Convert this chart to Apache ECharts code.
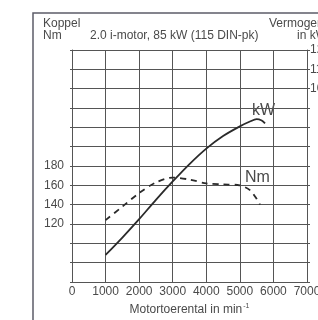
<!DOCTYPE html>
<html>
<head>
<meta charset="utf-8">
<title>Koppel / vermogen</title>
<script src="https://cdn.jsdelivr.net/npm/echarts@6/dist/echarts.min.js"></script>
<style>
    html, body { margin: 0; padding: 0; background: #fff; }
    #chart { width: 318px; height: 320px; }
</style>
</head>
<body>
<div id="chart"></div>
<script>
var kwRpm   = [1000, 1500, 2000, 2500, 3000, 3500, 4000, 4500, 5000, 5300, 5500, 5650, 5750];
var kwVals  = [14, 23, 32.5, 42.5, 52, 61, 69, 75.5, 80.5, 83, 84.2, 83.5, 82];
var nmRpm   = [1000, 1500, 2000, 2500, 3000, 3500, 4000, 4500, 5000, 5300, 5500, 5600];
var nmVals  = [124, 138, 152, 163, 168, 166, 162, 161, 160, 155, 146, 140];
var rpmTicks = [0, 1000, 2000, 3000, 4000, 5000, 6000, 7000];
var nmLabels = [120, 140, 160, 180];
var kwLabels = [100, 110, 120];

var textCol = '#4a4a4a';
var gridCol = '#555';
var lineCol = '#2a2a2a';
var font = 'Liberation Sans, Arial, sans-serif';

function pairs(xs, ys) {
    var out = [];
    for (var i = 0; i < xs.length; i++) {
        out.push([xs[i], ys[i]]);
    }
    return out;
}

function txt(x, y, s, size) {
    return {
        type: 'text', left: x, top: y,
        style: { text: s, fill: textCol, font: (size || 12) + 'px ' + font }
    };
}

var option = {
    animation: false,
    backgroundColor: '#fff',
    grid: { left: 72, right: 11, top: 50, bottom: 38, containLabel: false, outerBoundsMode: 'none' },
    xAxis: {
        type: 'value',
        min: rpmTicks[0], max: rpmTicks[rpmTicks.length - 1], interval: 1000,
        axisLine: { show: true, lineStyle: { color: gridCol, width: 1 } },
        axisTick: { show: false },
        splitLine: { show: true, lineStyle: { color: gridCol, width: 1 } },
        axisLabel: {
            color: textCol, fontSize: 12, fontFamily: font, margin: 4,
            showMaxLabel: true, showMinLabel: true, hideOverlap: false,
            formatter: function (v) { return String(v); }
        },
        name: 'Motortoerental in min{s|-1}',
        nameLocation: 'middle',
        nameGap: 21,
        nameTextStyle: {
            color: textCol, fontSize: 12, fontFamily: font,
            rich: { s: { fontSize: 7, verticalAlign: 'top', color: textCol, padding: [0, 0, 6, 1] } }
        }
    },
    yAxis: [
        {
            type: 'value', min: 60, max: 300, interval: 20,
            axisLine: { show: true, lineStyle: { color: gridCol, width: 1 } },
            axisTick: { show: true, length: 2, lineStyle: { color: gridCol } },
            splitLine: { show: true, lineStyle: { color: gridCol, width: 1 } },
            axisLabel: {
                color: textCol, fontSize: 12, fontFamily: font, margin: 8,
                formatter: function (v) { return nmLabels.indexOf(v) >= 0 ? String(v) : ''; }
            }
        },
        {
            type: 'value', min: 0, max: 120, interval: 10, position: 'right',
            axisLine: { show: true, lineStyle: { color: gridCol, width: 1 } },
            axisTick: { show: true, length: 3, lineStyle: { color: gridCol } },
            splitLine: { show: false },
            axisLabel: {
                color: textCol, fontSize: 12, fontFamily: font, margin: 3,
                formatter: function (v) { return kwLabels.indexOf(v) >= 0 ? String(v) : ''; }
            }
        }
    ],
    series: [
        {
            name: 'kW', type: 'line', yAxisIndex: 1,
            data: pairs(kwRpm, kwVals),
            smooth: 0.3, showSymbol: false,
            lineStyle: { color: lineCol, width: 1.8 }
        },
        {
            name: 'Nm', type: 'line', yAxisIndex: 0,
            data: pairs(nmRpm, nmVals),
            smooth: 0.3, showSymbol: false,
            lineStyle: { color: lineCol, width: 1.8, type: [6, 5] }
        }
    ],
    graphic: [
        {
            type: 'rect', z: -1,
            shape: { x: 33, y: 13, width: 320, height: 330 },
            style: { fill: 'none', stroke: '#5c5c68', lineWidth: 1.5 }
        },
        txt(43, 18, 'Koppel'),
        txt(43, 30, 'Nm'),
        txt(90, 30, '2.0 i-motor, 85 kW (115 DIN-pk)'),
        txt(269, 18, 'Vermogen'),
        txt(297, 30, 'in kW'),
        txt(252, 103, 'kW', 16),
        txt(245, 170, 'Nm', 16)
    ]
};

var chart = echarts.init(document.getElementById('chart'));
chart.setOption(option);
</script>
</body>
</html>
